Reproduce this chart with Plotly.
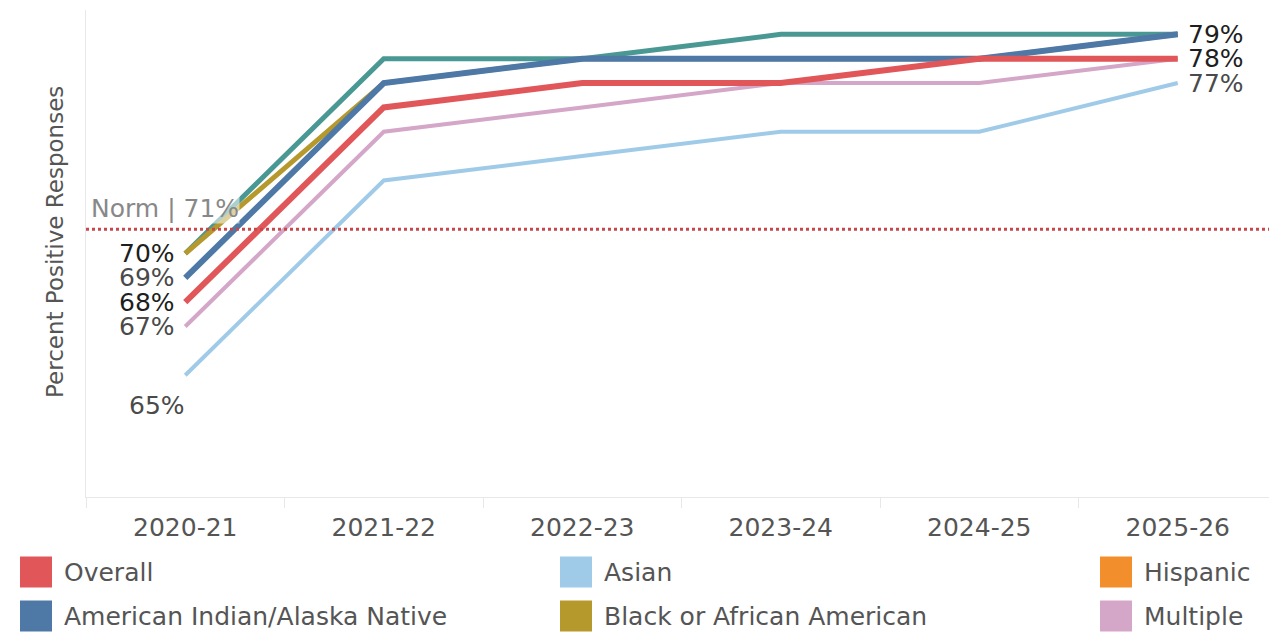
import plotly.graph_objects as go

years = ["2020-21", "2021-22", "2022-23", "2023-24", "2024-25", "2025-26"]

overall = [68, 76, 77, 77, 78, 78]
asian = [65, 73, 74, 75, 75, 77]
hispanic = [None, None, None, None, None, None]
am_indian = [69, 77, 78, 78, 78, 79]
black = [70, 77, 78, 78, 78, 79]
multiple = [67, 75, 76, 77, 77, 78]
white = [70, 78, 78, 79, 79, 79]

norm_value = 71

# legend order (row-major, 3 columns)
legend_names = ["Overall", "Asian", "Hispanic",
                "American Indian/Alaska Native", "Black or African American", "Multiple"]

colors = {
    "Overall": "#e15759",
    "Asian": "#a0cbe8",
    "Hispanic": "#f28e2b",
    "American Indian/Alaska Native": "#4e79a7",
    "Black or African American": "#b6992d",
    "Multiple": "#d4a6c8",
    "White": "#499894",
}

# draw order bottom -> top
series = [
    ("Asian", asian, 4),
    ("Multiple", multiple, 4),
    ("Hispanic", hispanic, 5),
    ("White", white, 5),
    ("Black or African American", black, 5),
    ("American Indian/Alaska Native", am_indian, 6),
    ("Overall", overall, 6),
]

FONT = "DejaVu Sans"
OFF = 8  # page body margin
W, H = 1269, 627
L, R, T, B = 78, 0, 2, 138
PW, PH = W - L - R, H - T - B


def px(x):
    return (x - OFF - L) / PW


def py(y):
    return (H - B - (y - OFF)) / PH


fig = go.Figure()

for name, vals, width in series:
    fig.add_trace(go.Scatter(
        x=years, y=vals, name=name, mode="lines",
        line=dict(color=colors[name], width=width),
        showlegend=False, cliponaxis=False, hoverinfo="x+y+name",
    ))

# end labels built from the data (deduplicated by value)
dark_names = {"Overall", "Black or African American", "White"}
seen_first, seen_last = {}, {}
for name, vals, _ in series:
    if vals[0] is not None:
        seen_first.setdefault(vals[0], set()).add(name)
    if vals[-1] is not None:
        seen_last.setdefault(vals[-1], set()).add(name)

for v, names in seen_first.items():
    dark = bool(names & dark_names)
    is_low = v == min(seen_first)
    fig.add_annotation(
        x=years[0], y=v, text=f"{v}%", showarrow=False,
        xanchor="right", yanchor="middle",
        xshift=2 if is_low else -8, yshift=-30 if is_low else 0,
        font=dict(family=FONT, size=25, color="#1e1e1e" if dark else "#4a4a4a"),
    )
for v, names in seen_last.items():
    dark = len(names) > 1
    fig.add_annotation(
        x=years[-1], y=v, text=f"{v}%", showarrow=False,
        xanchor="left", yanchor="middle", xshift=8,
        font=dict(family=FONT, size=25, color="#1e1e1e" if dark else "#4a4a4a"),
    )

# Norm line
fig.add_shape(type="line", xref="paper", yref="y", x0=0, x1=1, y0=norm_value, y1=norm_value,
              line=dict(color="#c9474b", width=3, dash="dot"))
fig.add_annotation(xref="paper", yref="y", x=px(90), y=norm_value, yshift=21,
                   text=f"Norm | {norm_value}%", showarrow=False, xanchor="left",
                   bgcolor="rgba(255,255,255,0.55)", borderpad=0,
                   font=dict(family=FONT, size=25, color="#888"))

# y-axis title
fig.add_annotation(xref="paper", yref="paper", x=px(55), y=py(242), textangle=-90,
                   text="Percent Positive Responses", showarrow=False,
                   xanchor="center", yanchor="middle",
                   font=dict(family=FONT, size=23, color="#555"))

# manual legend
col_x = [20, 560, 1100]
row_y = [572, 616]
for i, name in enumerate(legend_names):
    r, c = divmod(i, 3)
    x0 = col_x[c]
    yc = row_y[r]
    fig.add_shape(type="rect", xref="paper", yref="paper",
                  x0=px(x0), x1=px(x0 + 32), y0=py(yc - 15.5), y1=py(yc + 15.5),
                  fillcolor=colors[name], line=dict(width=0))
    fig.add_annotation(xref="paper", yref="paper", x=px(x0 + 42), y=py(yc),
                       text=name, showarrow=False, xanchor="left", yanchor="middle",
                       font=dict(family=FONT, size=25, color="#555"))

fig.update_xaxes(
    type="category", range=[-0.5, len(years) - 0.5], automargin=False,
    showgrid=False, showline=True, linecolor="#e8e8e8", linewidth=1,
    ticks="outside", tickson="boundaries", ticklen=10, tickcolor="#e8e8e8",
    ticklabelstandoff=8,
    tickfont=dict(family=FONT, size=25, color="#555"),
    zeroline=False,
)
fig.update_yaxes(
    range=[60, 80], showgrid=False, showticklabels=False, zeroline=False, automargin=False,
    showline=True, linecolor="#e8e8e8", linewidth=1,
)

fig.update_layout(
    width=W, height=H,
    margin=dict(l=L, r=R, t=T, b=B),
    plot_bgcolor="white", paper_bgcolor="white",
    showlegend=False,
)

fig.write_html("out.html")
